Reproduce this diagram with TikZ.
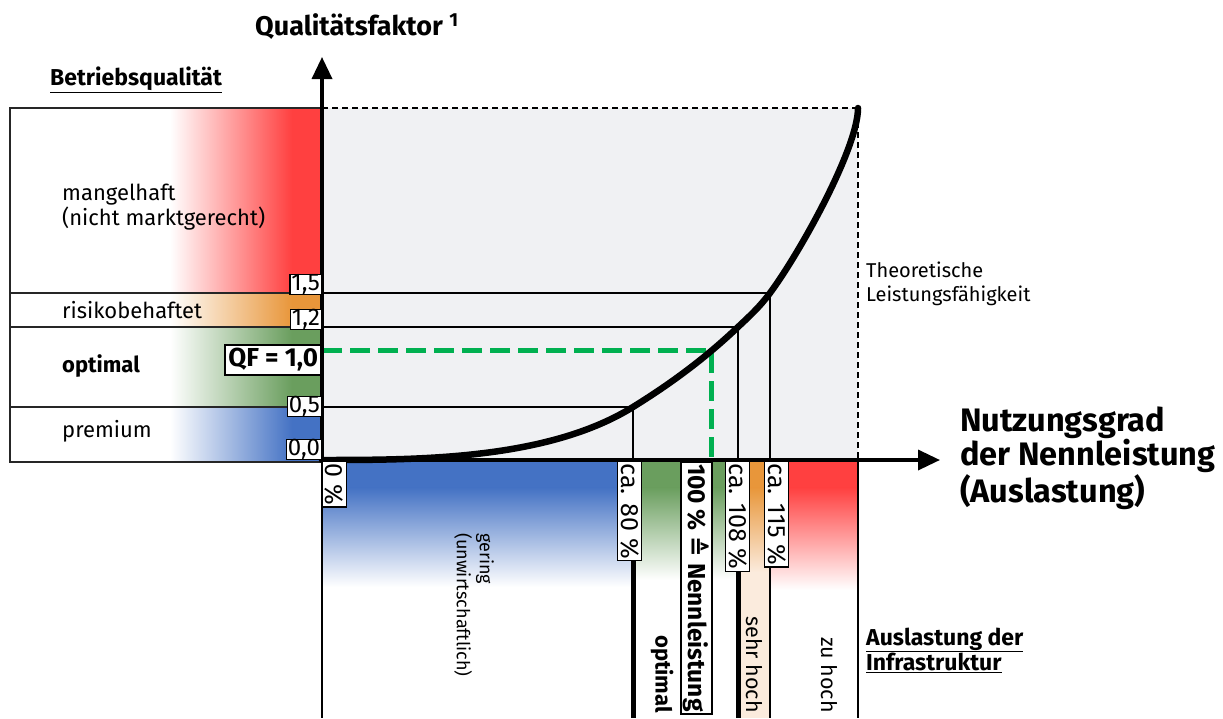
\documentclass[tikz,border=0pt]{standalone}
\usepackage{fontspec}
\setmainfont{Fira Sans}
\newfontfamily\symbfont{DejaVu Sans}
\usetikzlibrary{arrows.meta}
\definecolor{qred}{RGB}{255,64,64}
\definecolor{qorange}{RGB}{232,150,58}
\definecolor{qgreen}{RGB}{106,158,94}
\definecolor{qblue}{RGB}{68,114,196}
\definecolor{qgray}{RGB}{240,241,243}
\definecolor{qpeach}{RGB}{251,235,221}
\definecolor{qfgreen}{RGB}{0,176,80}
\newcommand{\fsz}[2]{\fontsize{#1}{#2}\selectfont}

\begin{document}
\begin{tikzpicture}[x=1pt, y=-1pt,
  >={Triangle[length=22pt,width=20pt]},
  row/.style={draw=black!85, line width=1.2pt},
  guide/.style={line width=1.3pt},
  bar/.style={line width=5pt},
  axis/.style={->, line width=3.5pt},
  qf/.style={draw=qfgreen, line width=5pt, dash pattern=on 20pt off 8pt},
  val/.style={draw=black, fill=white, line width=1.2pt, inner xsep=1.5pt, inner ysep=0pt, font=\fsz{24}{24}},
  pct/.style={draw=black, fill=white, line width=1.3pt, rotate=-90, inner xsep=2pt, inner ysep=2.5pt, font=\fsz{25}{25}},
  lbl/.style={inner sep=0pt, align=left, font=\fsz{22}{25}},
  head/.style={inner sep=0pt, align=left, font=\fsz{23}{25}\bfseries},
]
\useasboundingbox (0,0) rectangle (1223,718);
\coordinate (o) at (322,460);
\coordinate (bot) at (322,718);
\coordinate (q80) at (633,407);
\coordinate (q100) at (711,350);
\coordinate (q108) at (738,327);
\coordinate (q115) at (770,293);
\coordinate (qtop) at (858,108);

% field of the curve
\fill[qgray] (322,108) rectangle (858,460);
\draw[line width=1.3pt, dash pattern=on 6pt off 4pt] (322,108) -- (qtop) -- (858,460);

% quality rows on the left
\foreach \ya/\yb/\col in {108/293/qred, 293/327/qorange, 327/407/qgreen, 407/462/qblue} {
  \shade[left color=white, right color=\col] (170,\ya) rectangle (292,\yb);
  \fill[\col] (291.5,\ya) rectangle (322,\yb);
  \draw[row] (10,\ya) rectangle (322,\yb);
}

% utilisation bands below the axis
\foreach \xa/\xb/\col/\yf in {322/633/qblue/587, 633/738/qgreen/580, 770/858/qred/590} {
  \fill[\col] (\xa,460) rectangle (\xb,488);
  \shade[top color=\col, bottom color=white] (\xa,487.5) rectangle (\xb,\yf);
}
\fill[qorange] (738,460) rectangle (770,488);
\shade[top color=qorange, bottom color=qpeach] (738,487.5) rectangle (770,572);
\fill[qpeach] (738,571.5) rectangle (770,718);
\draw[guide] (o) -- (bot);
\draw[guide] (858,460) -- (858,718);

% guides to the curve
\draw[guide] (o |- q80) -- (q80) -- (q80 |- o);
\draw[guide] (o |- q108) -- (q108) -- (q108 |- o);
\draw[guide] (o |- q115) -- (q115) -- (q115 |- o);
\draw[qf] (o |- q100) -- (q100) -- (q100 |- o);

% curve
\draw[line width=6.5pt, line cap=round] (o) .. controls (420,460) and (548,459.7) .. (q80)
  .. controls (668,385.3) and (703,360.3) .. (q108)
  .. controls (748.7,316.9) and (759.3,307.4) .. (q115)
  .. controls (800,252.5) and (858,148) .. (qtop);

% axes
\draw[axis] (o) -- (322,57);
\draw[axis] (o) -- (940,460);

% values on the y axis
\node[val, anchor=south east] (v15) at (322,295) {1,5};
\node[val, anchor=south east] (v12) at (322,330) {1,2};
\node[val, anchor=south east] (v05) at (322,417) {0,5};
\node[val, anchor=south east] (v00) at (322,460) {0,0};
\node[val, anchor=east, line width=2pt, inner xsep=3pt, inner ysep=3pt, font=\fsz{26}{26}\bfseries] (v10) at (322,360) {QF = 1,0};

% values on the x axis
\node[pct, anchor=south west] (l0) at (322,461) {0 \%};
\node[pct, anchor=north west] (l80) at (642,461) {ca. 80 \%};
\node[pct, anchor=north west, line width=2pt, font=\fsz{24.5}{24.5}\bfseries] (l100) at (713,461) {100 \% {\symbfont ≙} Nennleistung};
\node[pct, anchor=north west] (l108) at (750,461) {ca. 108 \%};
\node[pct, anchor=north west] (l115) at (789,461) {ca. 115 \%};
\draw[bar] (l80.east -| q80) -- (q80 |- bot);
\draw[bar] (l108.east -| q108) -- (q108 |- bot);
\draw[guide] (l115.east -| q115) -- (q115 |- bot);

% texts
\node[head, font=\fsz{27}{27}\bfseries, anchor=west] (tq) at (255,27) {Qualitätsfaktor~\textsuperscript{1}};
\node[head, anchor=west] (tbq) at (50,80) {\underline{Betriebsqualität}};
\node[lbl, anchor=west] (tmang) at (62,207) {mangelhaft\\(nicht marktgerecht)};
\node[lbl, anchor=west] (trisk) at (62,310) {risikobehaftet};
\node[lbl, anchor=west, font=\fsz{22}{25}\bfseries] (topt) at (62,366) {optimal};
\node[lbl, anchor=west] (tprem) at (62,431) {premium};
\node[lbl, anchor=north west, font=\fsz{20}{24}] (ttheo) at (866,262) {Theoretische\\Leistungsfähigkeit};
\node[head, anchor=west, font=\fsz{32.5}{33}\bfseries] (tnutz) at (960,458) {Nutzungsgrad\\der Nennleistung\\(Auslastung)};
\node[head, anchor=west] (tinf) at (866,650) {\underline{Auslastung der}\\\underline{Infrastruktur}};
\node[lbl, rotate=-90, anchor=west, font=\fsz{18}{23}] (tger) at (474,533) {gering\\(unwirtschaftlich)};
\node[lbl, rotate=-90, anchor=east, font=\fsz{22}{25}\bfseries] (topt2) at (662,713) {optimal};
\node[lbl, rotate=-90, anchor=east, font=\fsz{21.5}{25}] (tsehr) at (754,713) {sehr hoch};
\node[lbl, rotate=-90, anchor=east, font=\fsz{21.5}{25}] (tzu) at (829,713) {zu hoch};
\end{tikzpicture}
\end{document}
